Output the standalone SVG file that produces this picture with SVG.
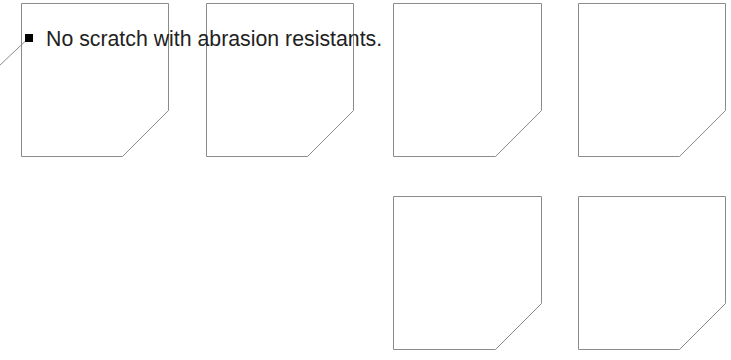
<svg xmlns="http://www.w3.org/2000/svg" width="731" height="360" viewBox="0 0 731 360">
<style>
.card{fill:#fff;stroke:#8c8c8c;stroke-width:1}
.lbl{font-family:"Liberation Sans",Arial,sans-serif;font-size:21.3px;fill:#222}
.conn{stroke:#8c8c8c;stroke-width:1;fill:none}
</style>
<rect width="731" height="360" fill="#fff"/>
<g id="card1"><path class="card" d="M21.5,3.5H168.5V110.5L122.5,156.5H21.5Z"/></g>
<g id="card2"><path class="card" d="M206.5,3.5H353.5V110.5L307.5,156.5H206.5Z"/></g>
<g id="card3"><path class="card" d="M393.5,3.5H541.5V110.5L495.5,156.5H393.5Z"/></g>
<g id="card4"><path class="card" d="M578.5,3.5H725.5V110.5L679.5,156.5H578.5Z"/></g>
<g id="card5"><path class="card" d="M393.5,196.5H541.5V303.5L495.5,349.5H393.5Z"/></g>
<g id="card6"><path class="card" d="M578.5,196.5H725.5V303.5L679.5,349.5H578.5Z"/></g>
<g id="connectors"><line class="conn" x1="25.5" y1="41" x2="-1" y2="66"/></g>
<g id="label">
<rect x="25" y="34" width="8" height="8" fill="#000"/>
<text class="lbl" x="46" y="46">No scratch with abrasion resistants.</text>
</g>
</svg>
